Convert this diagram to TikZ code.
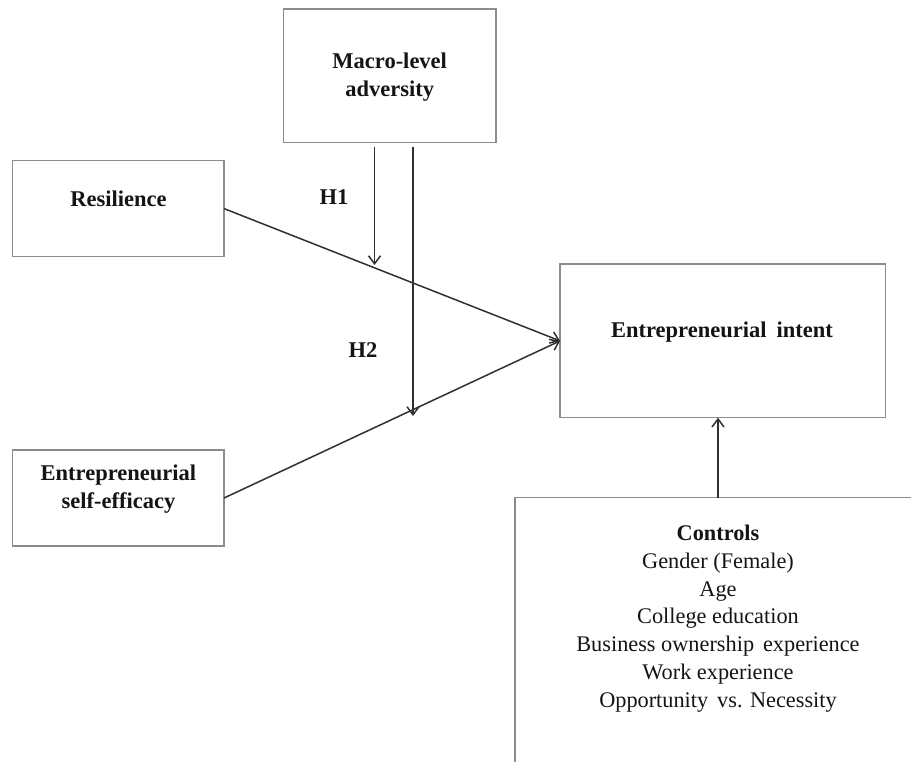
\documentclass[tikz,border=0pt]{standalone}
\usepackage{fontspec}
\setmainfont{Liberation Serif}
\usetikzlibrary{arrows.meta}
\definecolor{boxgray}{HTML}{8C8C8C}
\definecolor{arrgray}{HTML}{303030}
\definecolor{txtcol}{HTML}{141414}
\begin{document}
\begin{tikzpicture}[x=1pt,y=-1pt,
  box/.style={draw=boxgray, line width=1.2pt, inner sep=0pt, outer sep=0pt, fill=none},
  txt/.style={text=txtcol, font=\fontsize{22.5}{27.3}\selectfont\bfseries, align=center, inner sep=0pt},
  ctxt/.style={text=txtcol, font=\fontsize{22.3}{27.8}\selectfont, align=center, inner sep=0pt},
  arr/.style={draw=arrgray, line width=1.5pt, -{Straight Barb[length=8pt,width=12pt,line width=1.5pt]}}
]
\useasboundingbox (0,0) rectangle (911,762);
\clip (0,0) rectangle (911,762);

% boxes
\node[box, minimum width=212.7pt, minimum height=133.7pt] (macro) at (389.7,75.9) {};
\node[box, minimum width=211.3pt, minimum height=96pt] (res) at (118.4,208.6) {};
\node[box, minimum width=211.3pt, minimum height=96pt] (ese) at (118.4,498) {};
\node[box, minimum width=325.7pt, minimum height=153.7pt] (intent) at (722.9,340.9) {};
\node[box, minimum width=406pt, minimum height=290pt] (ctrl) at (718,642.7) {};

% texts
\node[txt] (macrotext) at (389.7,77) {Macro-level\\adversity};
\node[txt] (restext) at (118.4,198.5) {Resilience};
\node[txt] (esetext) at (118.4,489) {Entrepreneurial\\self-efficacy};
\node[txt] (intenttext) at (722,332) {Entrepreneurial\hspace{0.45em}intent};
\node[ctxt] (ctrltext) at (718,618.5) {\textbf{Controls}\\Gender (Female)\\Age\\College education\\Business ownership\hspace{0.4em}experience\\Work experience\\Opportunity\hspace{0.4em}vs. Necessity};
\node[txt] (h1) at (334,197) {H1};
\node[txt] (h2) at (363,350) {H2};

% connectors
\draw[arr] (res.east) -- (intent.west);
\draw[arr] (ese.east) -- (intent.west);
\coordinate (h1top) at (374.5,147);
\coordinate (h1end) at (374.5,265);
\coordinate (h2top) at (413,147);
\coordinate (h2end) at (413,416);
\draw[arr] (h1top) -- (h1end);
\draw[arr] (h2top) -- (h2end);
\draw[arr] (ctrl.north) -- (ctrl.north |- intent.south);
\end{tikzpicture}
\end{document}
